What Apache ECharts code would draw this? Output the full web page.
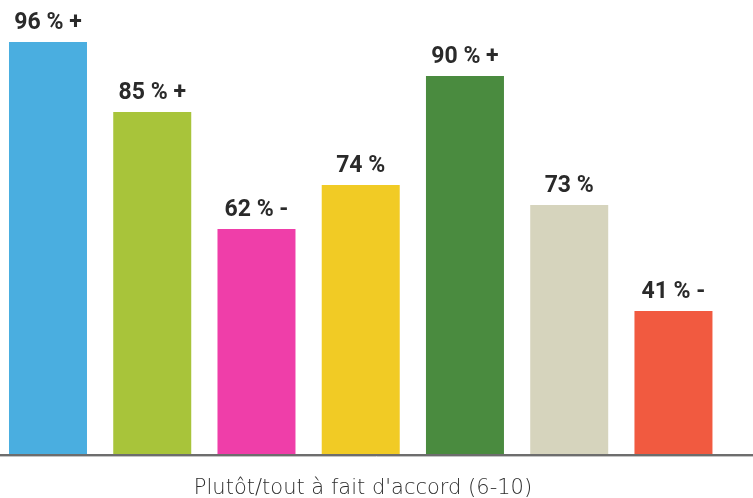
<!DOCTYPE html>
<html>
<head>
<meta charset="utf-8">
<script src="https://cdn.jsdelivr.net/npm/echarts@6/dist/echarts.min.js"></script>
<style>html,body{margin:0;padding:0;background:#fff;}#c{width:753px;height:498px;}</style>
</head>
<body>
<div id="c"></div>
<script>
const categories = ['A', 'B', 'C', 'D', 'E', 'F', 'G'];
const barValues = [412, 342, 225, 269, 378, 249, 143];
const barLabels = ['96 % +', '85 % +', '62 % -', '74 %', '90 % +', '73 %', '41 % -'];
const barColors = ['#4aaee0', '#a8c43a', '#ef3ea9', '#f1cb25', '#4a8b3f', '#d6d4bd', '#f15a40'];
const axisTitle = 'Plutôt/tout à fait d\'accord (6-10)';

const chart = echarts.init(document.getElementById('c'), null, {renderer: 'canvas'});
chart.setOption({
  animation: false,
  backgroundColor: '#fff',
  title: {
    text: axisTitle,
    left: 358,
    textAlign: 'center',
    top: 473,
    textStyle: {fontFamily: 'DejaVu Sans', fontWeight: 200, fontSize: 21, color: '#2e2e2e'}
  },
  grid: {left: 0, right: 0, top: 0, bottom: 44, containLabel: false},
  xAxis: {
    type: 'value',
    min: -0.4604,
    max: 6.763,
    show: false
  },
  yAxis: {
    type: 'value',
    min: 0,
    max: 454,
    show: false
  },
  series: [{
    type: 'bar',
    barWidth: 78,
    data: barValues.map((v, i) => ({value: [i, v], itemStyle: {color: barColors[i]}})),
    label: {
      show: true,
      position: 'top',
      distance: 7,
      formatter: p => barLabels[p.dataIndex],
      fontFamily: 'Roboto',
      fontWeight: 'bold',
      fontSize: 23,
      color: '#2a2a2a'
    }
  }],
  graphic: [
    {type: 'line', shape: {x1: 0, y1: 455, x2: 753, y2: 455}, style: {stroke: '#6d6d6d', lineWidth: 2}, z: 100},
    {type: 'line', shape: {x1: 0, y1: 456.5, x2: 753, y2: 456.5}, style: {stroke: '#c4c4c4', lineWidth: 1}, z: 100}
  ]
});
</script>
</body>
</html>
